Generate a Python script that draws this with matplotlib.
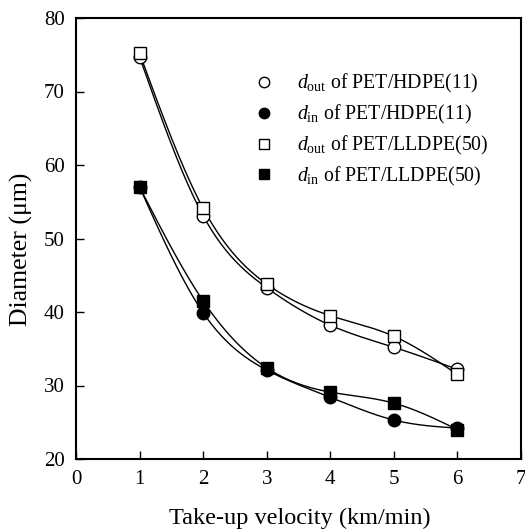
import numpy as np
import matplotlib
matplotlib.use("Agg")
import matplotlib.pyplot as plt

plt.rcParams["font.family"] = ["Liberation Serif", "DejaVu Serif"]
plt.rcParams["mathtext.fontset"] = "custom"
plt.rcParams["mathtext.rm"] = "Liberation Serif"
plt.rcParams["mathtext.it"] = "Liberation Serif:italic"

# Take-up velocity (km/min)
velocity = [1, 2, 3, 4, 5, 6]

# Diameters (µm)
dout_hdpe = [74.7, 53.1, 43.3, 38.2, 35.2, 32.2]
din_hdpe = [57.0, 39.9, 32.1, 28.4, 25.3, 24.2]
dout_lldpe = [75.2, 54.1, 43.8, 39.5, 36.7, 31.5]
din_lldpe = [57.0, 41.5, 32.4, 29.1, 27.6, 24.0]

labels = [
    r"$d_{\rm out}$ of PET/HDPE(11)",
    r"$d_{\rm in}$ of PET/HDPE(11)",
    r"$d_{\rm out}$ of PET/LLDPE(50)",
    r"$d_{\rm in}$ of PET/LLDPE(50)",
]


def natural_spline(x, y, n=200):
    """Natural cubic spline through (x, y), evaluated on a dense grid."""
    x = np.asarray(x, float)
    y = np.asarray(y, float)
    m = len(x)
    h = np.diff(x)
    A = np.zeros((m, m))
    r = np.zeros(m)
    A[0, 0] = A[-1, -1] = 1.0
    for i in range(1, m - 1):
        A[i, i - 1] = h[i - 1]
        A[i, i] = 2 * (h[i - 1] + h[i])
        A[i, i + 1] = h[i]
        r[i] = 6 * ((y[i + 1] - y[i]) / h[i] - (y[i] - y[i - 1]) / h[i - 1])
    M = np.linalg.solve(A, r)
    xs = np.linspace(x[0], x[-1], n)
    idx = np.clip(np.searchsorted(x, xs) - 1, 0, m - 2)
    x0, x1 = x[idx], x[idx + 1]
    hh = x1 - x0
    t0 = x1 - xs
    t1 = xs - x0
    ys = (M[idx] * t0**3 + M[idx + 1] * t1**3) / (6 * hh) \
        + (y[idx] / hh - M[idx] * hh / 6) * t0 \
        + (y[idx + 1] / hh - M[idx + 1] * hh / 6) * t1
    return xs, ys


W, H = 525, 529
fig = plt.figure(figsize=(W / 100, H / 100), dpi=100)
ax = fig.add_axes([76 / W, 1 - 459 / H, 445 / W, 441 / H])

series = [
    (dout_hdpe, "o", "white"),
    (din_hdpe, "o", "black"),
    (dout_lldpe, "s", "white"),
    (din_lldpe, "s", "black"),
]

handles = []
for (vals, mk, fc), lab in zip(series, labels):
    xs, ys = natural_spline(velocity, vals)
    ax.plot(xs, ys, color="black", lw=1.0, zorder=2)
    h, = ax.plot(velocity, vals, linestyle="none", marker=mk,
                 markersize=9 if mk == "o" else 8.5,
                 markerfacecolor=fc, markeredgecolor="black",
                 markeredgewidth=1.0, zorder=3, label=lab)
    handles.append(h)

ax.set_xlim(0, 7)
ax.set_ylim(20, 80)
ax.set_xticks(range(0, 8))
ax.set_yticks(range(20, 81, 10))
ax.tick_params(direction="in", length=6, width=1.0, labelsize=15,
               top=False, right=False, pad=8)
for sp in ax.spines.values():
    sp.set_linewidth(1.5)

fig.text(299.5 / W, 1 - 518 / H, "Take-up velocity (km/min)",
         fontsize=17.5, ha="center", va="center")
fig.text(21 / W, 1 - 249 / H, "Diameter (\u03bcm)",
         fontsize=18.5, ha="center", va="center", rotation=90)

leg = fig.legend(handles=handles, loc="upper left",
                 bbox_to_anchor=(254 / W, 1 - 72 / H),
                 bbox_transform=fig.transFigure, frameon=False,
                 fontsize=14.3, handlelength=1.0, handletextpad=1.15,
                 labelspacing=0.4, borderpad=0.0, borderaxespad=0.0)
for lh in leg.legend_handles:
    lh.set_markersize(7.5)

fig.savefig("out.png", dpi=100)
